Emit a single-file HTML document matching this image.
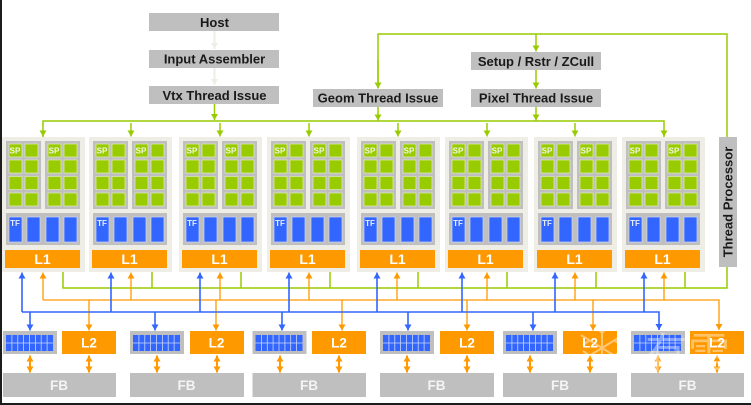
<!DOCTYPE html>
<html><head><meta charset="utf-8"><title>Diagram</title>
<style>
html,body{margin:0;padding:0;background:#fff}
svg{display:block;filter:blur(.35px)}
text{font-family:"Liberation Sans","Noto Sans CJK SC",sans-serif;font-weight:bold;text-anchor:middle}
.t{font-size:13px;fill:#1a1a1a}
.g{stroke:#99cc00;stroke-width:1.5;fill:none}
.o{stroke:#ff9900;stroke-width:1.3;fill:none}
.b{stroke:#3366ff;stroke-width:1.6;fill:none}
.l1{font-size:14px;fill:#fff}
.sp{font-size:8px;fill:#f4f8e4}
.tf{font-size:8px;fill:#e8eeff}
.l2{font-size:13.5px;fill:#fff}
.fb{font-size:13.5px;fill:#f4f4f4}
.d{stroke:#ff9900;stroke-width:2;fill:none}
</style></head><body>
<svg width="751" height="405" viewBox="0 0 751 405" xmlns="http://www.w3.org/2000/svg">
<defs>
<marker id="ag" markerUnits="userSpaceOnUse" markerWidth="8" markerHeight="8" refX="7" refY="4" orient="auto"><path d="M1 .5L7 4L1 7.500Z" fill="#99cc00"/></marker>
<marker id="ap" markerUnits="userSpaceOnUse" markerWidth="8" markerHeight="8" refX="7" refY="4" orient="auto"><path d="M1 .5L7 4L1 7.500Z" fill="#eeeee6"/></marker>
<marker id="ao" markerUnits="userSpaceOnUse" markerWidth="8" markerHeight="8" refX="7" refY="4" orient="auto-start-reverse"><path d="M1 .5L7 4L1 7.500Z" fill="#ff9900"/></marker>
<marker id="ad" markerUnits="userSpaceOnUse" markerWidth="8" markerHeight="8" refX="7" refY="4" orient="auto-start-reverse"><path d="M1 .5L7 4L1 7.500Z" fill="#ff9900"/></marker>
<marker id="ab" markerUnits="userSpaceOnUse" markerWidth="8" markerHeight="8" refX="7" refY="4" orient="auto"><path d="M1 .5L7 4L1 7.500Z" fill="#3366ff"/></marker>
<g id="c">
<rect x="0" y="137" width="83" height="135" fill="#eeeee6"/>
<rect x="4" y="141" width="35" height="68" fill="#bfbfbf"/>
<rect x="43" y="141" width="35" height="68" fill="#bfbfbf"/>
<g fill="#99cc00" stroke="#e0ebb8" stroke-width=".7">
<rect x="7" y="144" width="13" height="13"/><rect x="23" y="144" width="13" height="13"/><rect x="46" y="144" width="13" height="13"/><rect x="62" y="144" width="13" height="13"/>
<rect x="7" y="160" width="13" height="13"/><rect x="23" y="160" width="13" height="13"/><rect x="46" y="160" width="13" height="13"/><rect x="62" y="160" width="13" height="13"/>
<rect x="7" y="176.500" width="13" height="13"/><rect x="23" y="176.500" width="13" height="13"/><rect x="46" y="176.500" width="13" height="13"/><rect x="62" y="176.500" width="13" height="13"/>
<rect x="7" y="193" width="13" height="13"/><rect x="23" y="193" width="13" height="13"/><rect x="46" y="193" width="13" height="13"/><rect x="62" y="193" width="13" height="13"/>
</g>
<rect x="4" y="213" width="74" height="32" fill="#bfbfbf"/>
<g fill="#3366ff" stroke="#cdd9f8" stroke-width=".7">
<rect x="7" y="217" width="13" height="25"/><rect x="25" y="217" width="13" height="25"/><rect x="44" y="217" width="13" height="25"/><rect x="62" y="217" width="13" height="25"/>
</g>
<rect x="3" y="250" width="75" height="18" fill="#ff9900"/>
</g>
<g id="r">
<rect x="0" y="331" width="54" height="23" fill="#bfbfbf"/>
<rect x="3" y="335" width="47" height="16" fill="#3366ff"/>
<g stroke="#c9d6f8" stroke-width=".8"><path d="M8.9 335V351M14.8 335V351M20.6 335V351M26.5 335V351M32.4 335V351M38.2 335V351M44.1 335V351M3 343H50"/></g>
</g>
</defs>

<rect width="751" height="405" fill="#fff"/>
<rect x="0" y="0" width="2" height="405" fill="#1c1c1c"/>
<rect x="0" y="403" width="751" height="2" fill="#1c1c1c"/>

<!-- top connectors -->
<path d="M214.500 31V49" stroke="#eeeee6" stroke-width="2" fill="none" marker-end="url(#ap)"/>
<path d="M214.500 68V85" stroke="#eeeee6" stroke-width="2" fill="none" marker-end="url(#ap)"/>
<path class="g" d="M214.500 104V120" marker-end="url(#ag)"/>
<path class="g" d="M664 137V121H43V137" />
<path class="g" d="M43 130V136.500" marker-end="url(#ag)"/>
<path class="g" d="M664 130V136.500" marker-end="url(#ag)"/>
<path class="g" d="M131 123V136.500" marker-end="url(#ag)"/>
<path class="g" d="M220 123V136.500" marker-end="url(#ag)"/>
<path class="g" d="M309 123V136.500" marker-end="url(#ag)"/>
<path class="g" d="M398 123V136.500" marker-end="url(#ag)"/>
<path class="g" d="M487 123V136.500" marker-end="url(#ag)"/>
<path class="g" d="M575 123V136.500" marker-end="url(#ag)"/>
<path class="g" d="M378 88V34H727V137"/>
<path class="g" d="M378 60V88.500" marker-end="url(#ag)"/>
<path class="g" d="M378 107V120.500" marker-end="url(#ag)"/>
<path class="g" d="M536 34V51.500" marker-end="url(#ag)"/>
<path class="g" d="M536 70V88.500" marker-end="url(#ag)"/>
<path class="g" d="M536 107V120.500" marker-end="url(#ag)"/>

<!-- top boxes -->
<g fill="#bfbfbf">
<rect x="149" y="13" width="130" height="18"/>
<rect x="149" y="50" width="130" height="18"/>
<rect x="149" y="86" width="130" height="18"/>
<rect x="313" y="89" width="130" height="18"/>
<rect x="471" y="52" width="130" height="18"/>
<rect x="471" y="89" width="130" height="18"/>
</g>
<text class="t" x="214.500" y="27">Host</text>
<text class="t" x="214.500" y="63.500">Input Assembler</text>
<text class="t" x="214.500" y="100">Vtx Thread Issue</text>
<text class="t" x="378" y="102.500">Geom Thread Issue</text>
<text class="t" x="536" y="66">Setup / Rstr / ZCull</text>
<text class="t" x="536" y="102.500">Pixel Thread Issue</text>

<!-- clusters -->
<use href="#c" x="2"/><use href="#c" x="89"/><use href="#c" x="179"/><use href="#c" x="267"/>
<use href="#c" x="357"/><use href="#c" x="445"/><use href="#c" x="534"/><use href="#c" x="622"/>
<g transform="translate(2 0)"><text class="sp" x="13" y="153.500">SP</text><text class="sp" x="52" y="153.500">SP</text><text class="tf" x="13" y="226">TF</text><text class="l1" x="40.500" y="264">L1</text></g>
<g transform="translate(89 0)"><text class="sp" x="13" y="153.500">SP</text><text class="sp" x="52" y="153.500">SP</text><text class="tf" x="13" y="226">TF</text><text class="l1" x="40.500" y="264">L1</text></g>
<g transform="translate(179 0)"><text class="sp" x="13" y="153.500">SP</text><text class="sp" x="52" y="153.500">SP</text><text class="tf" x="13" y="226">TF</text><text class="l1" x="40.500" y="264">L1</text></g>
<g transform="translate(267 0)"><text class="sp" x="13" y="153.500">SP</text><text class="sp" x="52" y="153.500">SP</text><text class="tf" x="13" y="226">TF</text><text class="l1" x="40.500" y="264">L1</text></g>
<g transform="translate(357 0)"><text class="sp" x="13" y="153.500">SP</text><text class="sp" x="52" y="153.500">SP</text><text class="tf" x="13" y="226">TF</text><text class="l1" x="40.500" y="264">L1</text></g>
<g transform="translate(445 0)"><text class="sp" x="13" y="153.500">SP</text><text class="sp" x="52" y="153.500">SP</text><text class="tf" x="13" y="226">TF</text><text class="l1" x="40.500" y="264">L1</text></g>
<g transform="translate(534 0)"><text class="sp" x="13" y="153.500">SP</text><text class="sp" x="52" y="153.500">SP</text><text class="tf" x="13" y="226">TF</text><text class="l1" x="40.500" y="264">L1</text></g>
<g transform="translate(622 0)"><text class="sp" x="13" y="153.500">SP</text><text class="sp" x="52" y="153.500">SP</text><text class="tf" x="13" y="226">TF</text><text class="l1" x="40.500" y="264">L1</text></g>

<!-- thread processor -->
<rect x="719" y="137" width="18" height="130" fill="#bfbfbf"/>
<text class="t" transform="translate(732.500 202) rotate(-90)" x="0" y="0">Thread Processor</text>

<!-- lower green bus -->
<path class="g" d="M63 272V288H727V267"/>
<path class="g" d="M152 272V288M241 272V288M330 272V288M418 272V288M507 272V288M596 272V288M685 272V288"/>

<!-- orange bus -->
<path class="o" d="M43 300H719V330" marker-end="url(#ao)"/>
<path class="o" d="M43 300V272.500" marker-end="url(#ao)"/>
<path class="o" d="M131 300V272.500" marker-end="url(#ao)"/>
<path class="o" d="M220 300V272.500" marker-end="url(#ao)"/>
<path class="o" d="M309 300V272.500" marker-end="url(#ao)"/>
<path class="o" d="M397 300V272.500" marker-end="url(#ao)"/>
<path class="o" d="M487 300V272.500" marker-end="url(#ao)"/>
<path class="o" d="M575 300V272.500" marker-end="url(#ao)"/>
<path class="o" d="M664 300V272.500" marker-end="url(#ao)"/>
<path class="o" d="M89 300V330.500" marker-end="url(#ao)"/>
<path class="o" d="M216 300V330.500" marker-end="url(#ao)"/>
<path class="o" d="M342 300V330.500" marker-end="url(#ao)"/>
<path class="o" d="M467 300V330.500" marker-end="url(#ao)"/>
<path class="o" d="M593 300V330.500" marker-end="url(#ao)"/>

<!-- blue bus -->
<path class="b" d="M22 312H659V330" marker-end="url(#ab)"/>
<path class="b" d="M22 312V272.500" marker-end="url(#ab)"/>
<path class="b" d="M111 312V272.500" marker-end="url(#ab)"/>
<path class="b" d="M200 312V272.500" marker-end="url(#ab)"/>
<path class="b" d="M289 312V272.500" marker-end="url(#ab)"/>
<path class="b" d="M377 312V272.500" marker-end="url(#ab)"/>
<path class="b" d="M462 312V272.500" marker-end="url(#ab)"/>
<path class="b" d="M555 312V272.500" marker-end="url(#ab)"/>
<path class="b" d="M644 312V272.500" marker-end="url(#ab)"/>
<path class="b" d="M30 312V330.500" marker-end="url(#ab)"/>
<path class="b" d="M155 312V330.500" marker-end="url(#ab)"/>
<path class="b" d="M282 312V330.500" marker-end="url(#ab)"/>
<path class="b" d="M408 312V330.500" marker-end="url(#ab)"/>
<path class="b" d="M533 312V330.500" marker-end="url(#ab)"/>

<!-- bottom blocks -->
<use href="#r" x="3"/><use href="#r" x="130"/><use href="#r" x="252.500"/><use href="#r" x="380"/><use href="#r" x="503"/><use href="#r" x="631"/>
<g fill="#ff9900">
<rect x="62" y="331" width="54" height="23"/><rect x="190" y="331" width="54" height="23"/><rect x="312" y="331" width="54" height="23"/><rect x="440" y="331" width="54" height="23"/><rect x="563" y="331" width="54" height="23"/><rect x="690" y="331" width="54" height="23"/>
</g>
<text class="l2" x="89" y="347.500">L2</text><text class="l2" x="216.500" y="347.500">L2</text><text class="l2" x="339" y="347.500">L2</text><text class="l2" x="467" y="347.500">L2</text><text class="l2" x="590" y="347.500">L2</text><text class="l2" x="717" y="347.500">L2</text>
<g fill="#bfbfbf">
<rect x="3" y="373" width="113" height="24"/><rect x="130" y="373" width="114" height="24"/><rect x="252.500" y="373" width="113.500" height="24"/><rect x="380" y="373" width="114" height="24"/><rect x="503" y="373" width="114" height="24"/><rect x="631" y="373" width="113" height="24"/>
</g>
<text class="fb" x="59" y="390">FB</text><text class="fb" x="186.500" y="390">FB</text><text class="fb" x="309" y="390">FB</text><text class="fb" x="436.500" y="390">FB</text><text class="fb" x="560" y="390">FB</text><text class="fb" x="687.500" y="390">FB</text>

<!-- double arrows -->
<path class="d" d="M30 355.500V372.500" marker-start="url(#ad)" marker-end="url(#ad)"/><path class="d" d="M89 355.500V372.500" marker-start="url(#ad)" marker-end="url(#ad)"/>
<path class="d" d="M157 355.500V372.500" marker-start="url(#ad)" marker-end="url(#ad)"/><path class="d" d="M217 355.500V372.500" marker-start="url(#ad)" marker-end="url(#ad)"/>
<path class="d" d="M280 355.500V372.500" marker-start="url(#ad)" marker-end="url(#ad)"/><path class="d" d="M339 355.500V372.500" marker-start="url(#ad)" marker-end="url(#ad)"/>
<path class="d" d="M407 355.500V372.500" marker-start="url(#ad)" marker-end="url(#ad)"/><path class="d" d="M467 355.500V372.500" marker-start="url(#ad)" marker-end="url(#ad)"/>
<path class="d" d="M530 355.500V372.500" marker-start="url(#ad)" marker-end="url(#ad)"/><path class="d" d="M590 355.500V372.500" marker-start="url(#ad)" marker-end="url(#ad)"/>
<path class="d" d="M658 355.500V372.500" marker-start="url(#ad)" marker-end="url(#ad)"/><path class="d" d="M717 355.500V372.500" marker-start="url(#ad)" marker-end="url(#ad)"/>

<!-- watermark -->
<g stroke="#fff" stroke-width="2" fill="none" opacity=".45">
<path d="M602 323V373M581 335L623 361M581 361L623 335M596 327L602 333L608 327M596 369L602 363L608 369M583 345L590 340M621 345L614 340M583 351L590 356M621 351L614 356"/>
</g>
<text x="688" y="368" style="font-size:42px;font-weight:normal;fill:#fff;opacity:.4;letter-spacing:1px">有雪</text>
</svg>
</body></html>
